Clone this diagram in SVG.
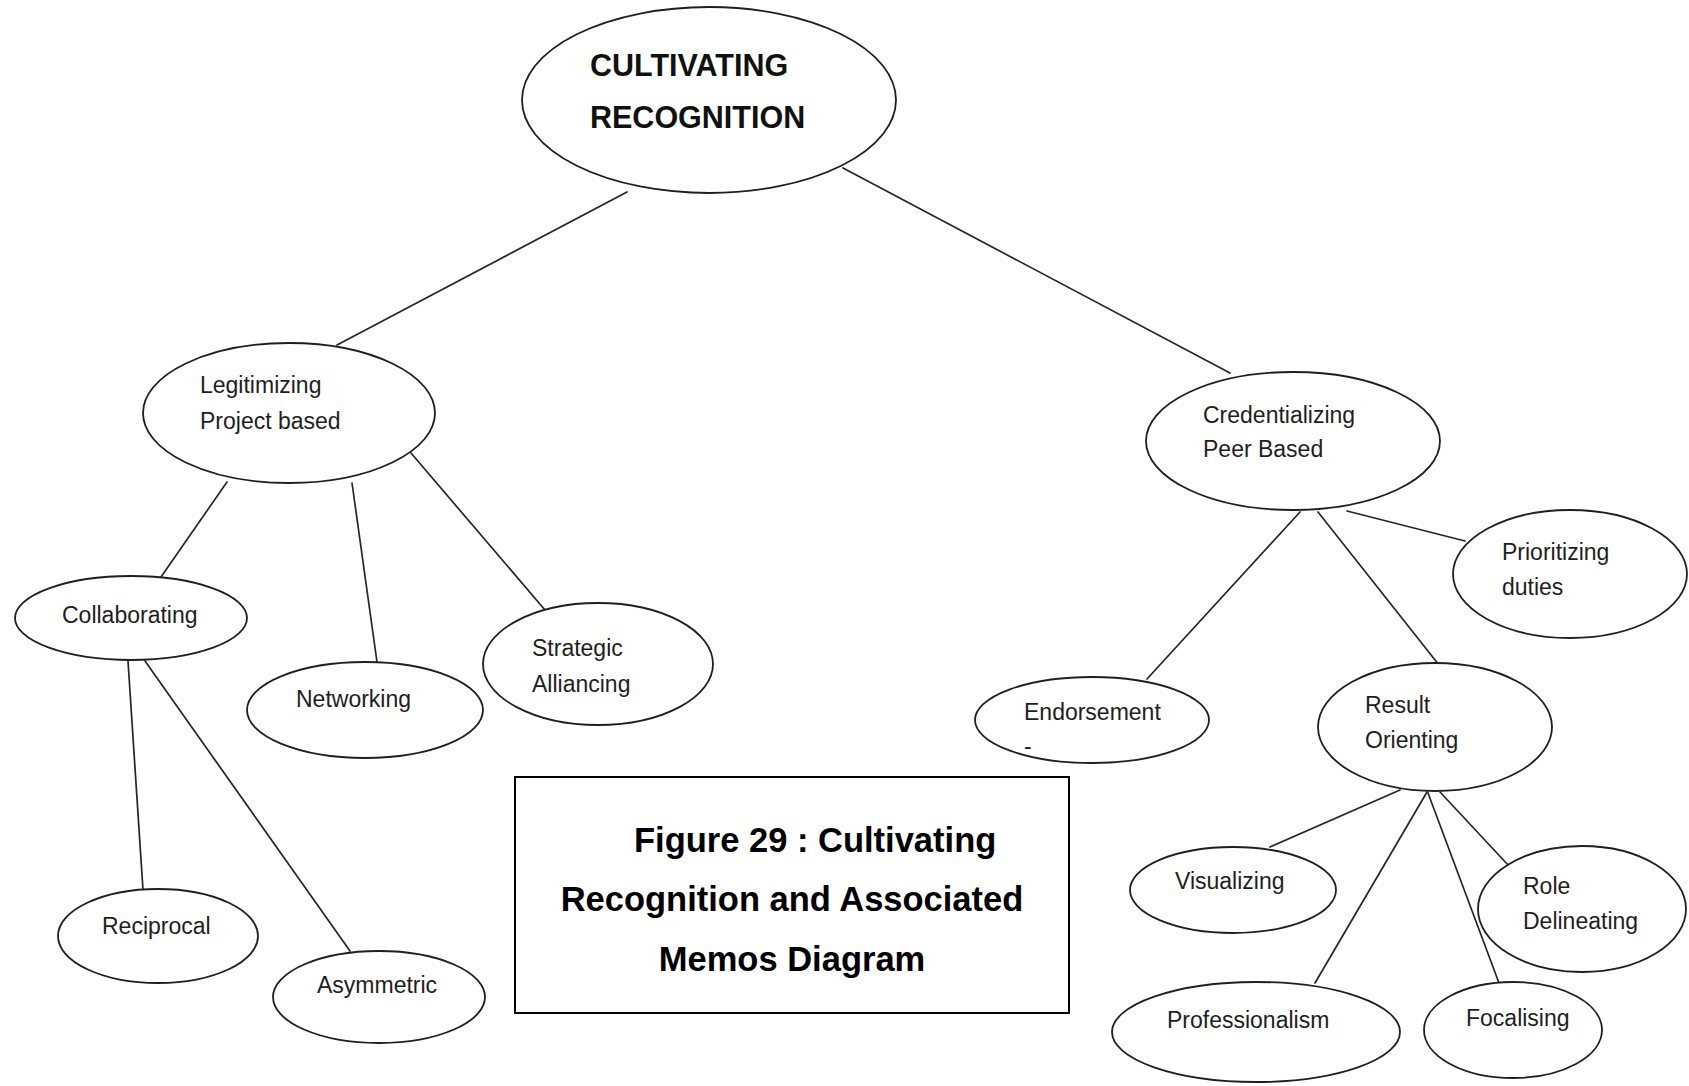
<svg xmlns="http://www.w3.org/2000/svg" width="1689" height="1086" viewBox="0 0 1689 1086">
  <style>
    .node ellipse { fill: #ffffff; stroke: #1f1f1f; stroke-width: 1.8; }
    .edges line { stroke: #262626; stroke-width: 1.7; stroke-linecap: round; }
    .lbl { font-family: "Liberation Sans", Arial, sans-serif; font-size: 23px; fill: #1e1e1e; }
    .title { font-family: "Liberation Sans", Arial, sans-serif; font-size: 30.5px; font-weight: bold; fill: #111111; }
    .caption { font-family: "Liberation Sans", Arial, sans-serif; font-size: 34.5px; font-weight: bold; fill: #000000; }
  </style>
  <rect x="0" y="0" width="1689" height="1086" fill="#ffffff"/>

  <!-- connectors -->
  <g id="edges" class="edges">
    <line x1="627" y1="192" x2="337" y2="345"/>
    <line x1="843" y1="168" x2="1230" y2="373"/>
    <line x1="227" y1="482" x2="161" y2="577"/>
    <line x1="352" y1="483" x2="377" y2="662"/>
    <line x1="411" y1="453" x2="545" y2="610"/>
    <line x1="128" y1="661" x2="143" y2="890"/>
    <line x1="145" y1="661" x2="350" y2="951"/>
    <line x1="1300" y1="512" x2="1147" y2="679"/>
    <line x1="1318" y1="512" x2="1439" y2="665"/>
    <line x1="1347" y1="511" x2="1465" y2="541"/>
    <line x1="1400" y1="790" x2="1270" y2="847"/>
    <line x1="1427" y1="792" x2="1315" y2="983"/>
    <line x1="1428" y1="793" x2="1499" y2="983"/>
    <line x1="1440" y1="792" x2="1509" y2="866"/>
  </g>

  <!-- root -->
  <g id="cultivating-recognition" class="node">
    <ellipse cx="709" cy="100" rx="187" ry="93"/>
    <text class="title" x="590" y="76">CULTIVATING</text>
    <text class="title" x="590" y="128">RECOGNITION</text>
  </g>

  <!-- left branch -->
  <g id="legitimizing" class="node">
    <ellipse cx="289" cy="413" rx="146" ry="70"/>
    <text class="lbl" x="200" y="393">Legitimizing</text>
    <text class="lbl" x="200" y="429">Project based</text>
  </g>
  <g id="collaborating" class="node">
    <ellipse cx="131" cy="618" rx="116" ry="42"/>
    <text class="lbl" x="62" y="623">Collaborating</text>
  </g>
  <g id="networking" class="node">
    <ellipse cx="365" cy="710" rx="118" ry="48"/>
    <text class="lbl" x="296" y="707">Networking</text>
  </g>
  <g id="strategic-alliancing" class="node">
    <ellipse cx="598" cy="664" rx="115" ry="61"/>
    <text class="lbl" x="532" y="656">Strategic</text>
    <text class="lbl" x="532" y="692">Alliancing</text>
  </g>
  <g id="reciprocal" class="node">
    <ellipse cx="158" cy="936" rx="100" ry="47"/>
    <text class="lbl" x="102" y="934">Reciprocal</text>
  </g>
  <g id="asymmetric" class="node">
    <ellipse cx="379" cy="997" rx="106" ry="46"/>
    <text class="lbl" x="317" y="993">Asymmetric</text>
  </g>

  <!-- right branch -->
  <g id="credentializing" class="node">
    <ellipse cx="1293" cy="441" rx="147" ry="69"/>
    <text class="lbl" x="1203" y="423">Credentializing</text>
    <text class="lbl" x="1203" y="457">Peer Based</text>
  </g>
  <g id="prioritizing-duties" class="node">
    <ellipse cx="1570" cy="574" rx="117" ry="64"/>
    <text class="lbl" x="1502" y="560">Prioritizing</text>
    <text class="lbl" x="1502" y="595">duties</text>
  </g>
  <g id="endorsement" class="node">
    <ellipse cx="1092" cy="720" rx="117" ry="43"/>
    <text class="lbl" x="1024" y="720">Endorsement</text>
    <text class="lbl" x="1024" y="754">-</text>
  </g>
  <g id="result-orienting" class="node">
    <ellipse cx="1435" cy="727" rx="117" ry="64"/>
    <text class="lbl" x="1365" y="713">Result</text>
    <text class="lbl" x="1365" y="748">Orienting</text>
  </g>
  <g id="visualizing" class="node">
    <ellipse cx="1233" cy="890" rx="103" ry="43"/>
    <text class="lbl" x="1175" y="889">Visualizing</text>
  </g>
  <g id="role-delineating" class="node">
    <ellipse cx="1582" cy="909" rx="104" ry="63"/>
    <text class="lbl" x="1523" y="894">Role</text>
    <text class="lbl" x="1523" y="929">Delineating</text>
  </g>
  <g id="professionalism" class="node">
    <ellipse cx="1256" cy="1032" rx="144" ry="50"/>
    <text class="lbl" x="1167" y="1028">Professionalism</text>
  </g>
  <g id="focalising" class="node">
    <ellipse cx="1513" cy="1030" rx="89" ry="48"/>
    <text class="lbl" x="1466" y="1026">Focalising</text>
  </g>

  <!-- figure caption -->
  <g id="caption">
    <rect x="515" y="777" width="554" height="236" fill="#ffffff" stroke="#000000" stroke-width="2"/>
    <text class="caption" x="634" y="852">Figure 29 : Cultivating</text>
    <text class="caption" x="792" y="911" text-anchor="middle">Recognition and Associated</text>
    <text class="caption" x="792" y="971" text-anchor="middle">Memos Diagram</text>
  </g>
</svg>
